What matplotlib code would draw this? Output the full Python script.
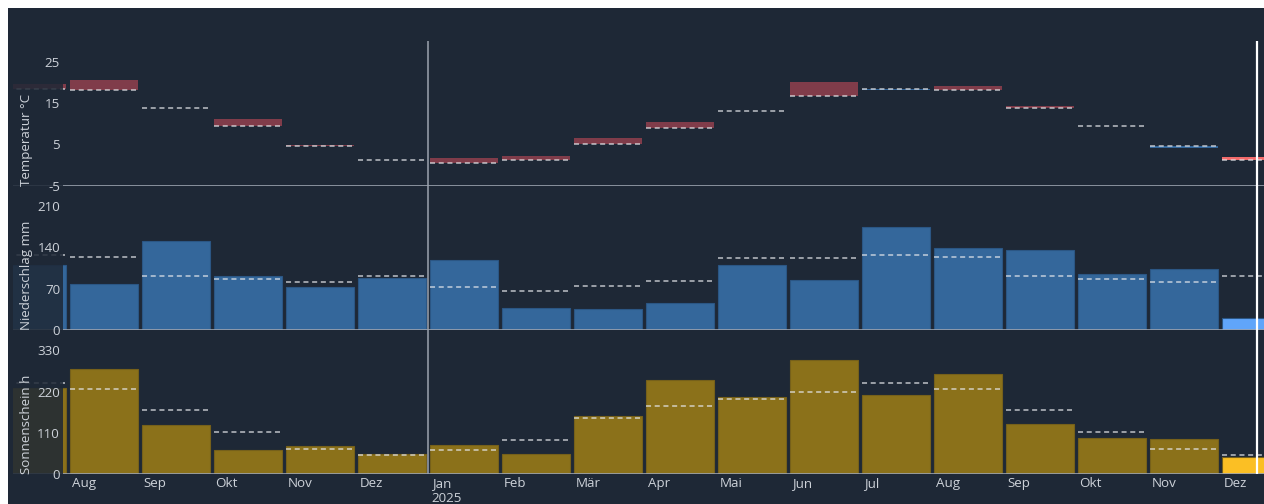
import matplotlib
matplotlib.use('Agg')
import matplotlib.pyplot as plt
from matplotlib.patches import Rectangle
import numpy as np

# ---- data (Jul 2024 .. Dez 2025) ----
months = ['Jul', 'Aug', 'Sep', 'Okt', 'Nov', 'Dez', 'Jan', 'Feb', 'Mär', 'Apr',
          'Mai', 'Jun', 'Jul', 'Aug', 'Sep', 'Okt', 'Nov', 'Dez']
years = [2024] * 6 + [2025] * 12
temp_actual = [19.7, 20.6, 13.9, 11.2, 4.9, 1.2, 1.7, 2.3, 6.5, 10.5, 13.1, 20.1,
               18.2, 19.1, 14.3, 9.5, 4.2, 2.0]
temp_normal = [18.5, 18.1, 13.9, 9.5, 4.5, 1.2, 0.4, 1.2, 5.0, 9.0, 13.1, 16.8,
               18.5, 18.1, 13.9, 9.5, 4.5, 1.2]
precip_actual = [110, 77, 150, 92, 73, 88, 118, 37, 36, 46, 110, 85,
                 175, 139, 136, 95, 104, 20]
precip_normal = [126, 123, 91, 86, 82, 92, 72, 66, 74, 83, 122, 122,
                 126, 123, 91, 86, 82, 92]
sun_actual = [230, 280, 131, 65, 74, 54, 78, 54, 155, 252, 206, 305,
              211, 266, 133, 96, 93, 46]
sun_normal = [244, 227, 170, 112, 66, 52, 64, 91, 150, 182, 200, 220,
              244, 227, 170, 112, 66, 52]
today_pos = 17.52          # position of "today" marker (month units)
year_start_pos = 6          # Jan 2025

temp_ticks = [-5, 5, 15, 25]
precip_ticks = [0, 70, 140, 210]
sun_ticks = [0, 110, 220, 330]

# ---- style ----
BG = '#1e2836'
TXT = '#cdd2d9'
AXL = '#9ca3af'
RED = '#803c4a'
RED_HI = '#f26b6b'
BLUE = '#34679b'
BLUE_HI = '#60a5fa'
GOLD = '#8b711a'
GOLD_HI = '#fbbf24'
plt.rcParams['font.family'] = ['Open Sans', 'DejaVu Sans']
FS = 9.6

W, H = 1264, 504
fig = plt.figure(figsize=(W / 100, H / 100), dpi=100, facecolor='white')
fig.patches.append(Rectangle((8 / W, 0), 1 - 8 / W, 1 - 8 / H, transform=fig.transFigure,
                             facecolor=BG, edgecolor='none', zorder=-10))

def px2fig(x0, y_top, y_bot):
    return [x0 / W, 1 - y_bot / H, (W - x0) / W, (y_bot - y_top) / H]

X0 = 13
xlim = ((X0 + 4) / 72, (W + 4) / 72)
n = len(months)
x = np.arange(n)
centers = x + 0.5
bw = 68 / 72

ax_t = fig.add_axes(px2fig(X0, 41, 185.7))
ax_p = fig.add_axes(px2fig(X0, 194, 330))
ax_s = fig.add_axes(px2fig(X0, 343, 474))

def style(ax, ylim, ticks, label, base):
    ax.set_facecolor('none')
    ax.set_ylim(*ylim)
    for s in ax.spines.values():
        s.set_visible(False)
    ax.set_yticks(ticks)
    ax.set_yticklabels([str(t) for t in ticks])
    ax.tick_params(axis='y', length=0, pad=-47 * 0.72, labelsize=FS, labelcolor=TXT)
    ax.yaxis.set_zorder(6)
    ax.axhline(base, color=AXL, lw=1.2, zorder=3)
    # dimming overlay at the left edge
    ax.add_patch(Rectangle((0, 0), (63 - X0) / (W - X0), 1, transform=ax.transAxes,
                           facecolor=BG, alpha=0.86, edgecolor='none', zorder=4))
    ax.text(13.5 / (W - X0), 0.0, label, rotation=90, transform=ax.transAxes,
            ha='center', va='bottom', fontsize=FS, color=TXT, zorder=7)

def normals(ax, vals):
    ax.hlines(vals, centers - bw / 2, centers + bw / 2, colors='#e5e7eb', alpha=0.8,
              lw=1.1, linestyles=(0, (3.3, 2.4)), zorder=3.5)

# temperature
ta = np.array(temp_actual)
tn = np.array(temp_normal)
tcol = [(RED if a >= b else BLUE) for a, b in zip(ta, tn)]
tcol[-1] = RED_HI if ta[-1] >= tn[-1] else BLUE_HI
ax_t.bar(centers, ta - tn, bottom=tn, width=bw, color=tcol, linewidth=0, zorder=2)
normals(ax_t, tn)
style(ax_t, (-5, 30), temp_ticks, 'Temperatur °C', -5)

# precipitation
pcol = [BLUE] * (n - 1) + [BLUE_HI]
ax_p.bar(centers, precip_actual, width=bw, color=pcol, edgecolor='#2b5684',
         linewidth=0.8, zorder=2)
normals(ax_p, precip_normal)
style(ax_p, (0, 230), precip_ticks, 'Niederschlag mm', 0)

# sunshine
scol = [GOLD] * (n - 1) + [GOLD_HI]
ax_s.bar(centers, sun_actual, width=bw, color=scol, edgecolor='#76601a', linewidth=0.8, zorder=2)
normals(ax_s, sun_normal)
style(ax_s, (0, 350), sun_ticks, 'Sonnenschein h', 0)

for ax in (ax_t, ax_p):
    ax.set_xticks([])
labels = [m + ('\n' + str(y) if (m == 'Jan') else '') for m, y in zip(months, years)]
ax_s.set_xticks(x[1:] + 0.05)
ax_s.set_xticklabels(labels[1:])
ax_s.tick_params(axis='x', length=0, pad=2.5, labelsize=FS, labelcolor=TXT)
for lab in ax_s.get_xticklabels():
    lab.set_ha('left')
    lab.set_linespacing(1.2)
for ax in (ax_t, ax_p, ax_s):
    ax.set_xlim(*xlim)

# overlay for vertical lines across all panels
ax_o = fig.add_axes(px2fig(X0, 41, 474), zorder=10)
ax_o.set_xlim(*xlim)
ax_o.set_ylim(0, 1)
ax_o.axis('off')
ax_o.axvline(year_start_pos, color=AXL, lw=1.1)
ax_o.axvline(today_pos, color='white', lw=1.6)

fig.savefig('out.png', dpi=100, facecolor=fig.get_facecolor())
